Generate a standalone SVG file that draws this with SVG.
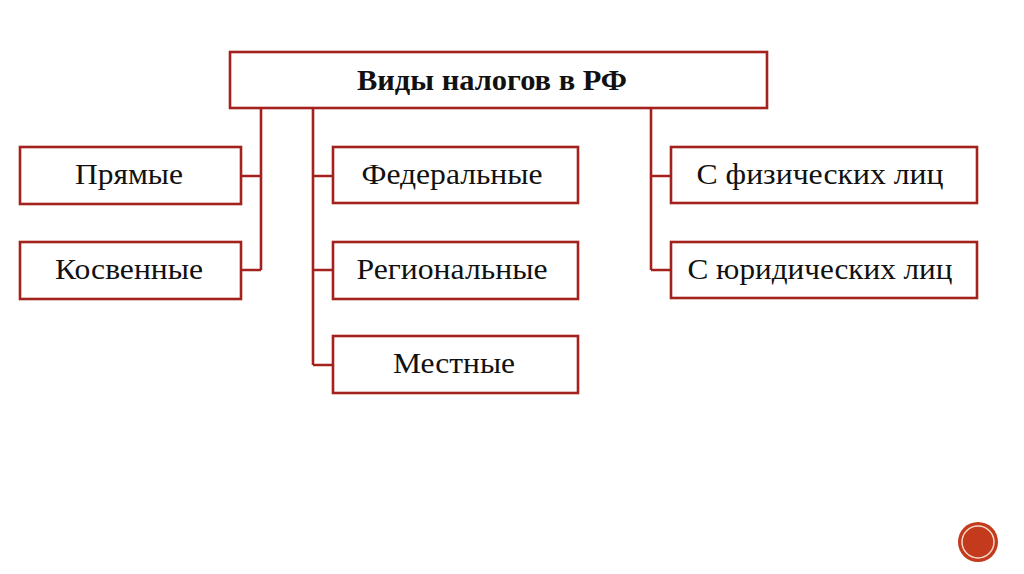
<svg xmlns="http://www.w3.org/2000/svg" width="1024" height="574" viewBox="0 0 1024 574">
<style>
.box{fill:#fff;stroke:#a3221d;stroke-width:2.6}
.ln{fill:none;stroke:#a3221d;stroke-width:2.6}
.t{font-family:"Liberation Serif","Times New Roman",serif;font-size:30px;fill:#111;text-anchor:middle}
.title{font-weight:bold;font-size:30px}
</style>
<rect width="1024" height="574" fill="#fff"/>
<g id="connectors">
<path class="ln" d="M261,108 V270 M241,176 H261 M241,270 H261"/>
<path class="ln" d="M313,108 V365 M313,176 H333 M313,270 H333 M313,365 H333"/>
<path class="ln" d="M651,108 V270 M651,176 H671 M651,270 H671"/>
</g>
<g id="root"><rect class="box" x="230" y="52" width="537" height="56"/><text class="t title" x="492" y="90" textLength="270" lengthAdjust="spacingAndGlyphs">Виды налогов в РФ</text></g>
<g id="pryamye"><rect class="box" x="20" y="147" width="221" height="57"/><text class="t" x="129" y="184" textLength="108" lengthAdjust="spacingAndGlyphs">Прямые</text></g>
<g id="kosvennye"><rect class="box" x="20" y="242" width="221" height="57"/><text class="t" x="129" y="279" textLength="148" lengthAdjust="spacingAndGlyphs">Косвенные</text></g>
<g id="federal"><rect class="box" x="333" y="147" width="245" height="56"/><text class="t" x="452" y="184" textLength="181" lengthAdjust="spacingAndGlyphs">Федеральные</text></g>
<g id="regional"><rect class="box" x="333" y="242" width="245" height="57"/><text class="t" x="452" y="279" textLength="191" lengthAdjust="spacingAndGlyphs">Региональные</text></g>
<g id="mestnye"><rect class="box" x="333" y="336" width="245" height="57"/><text class="t" x="454" y="373" textLength="122" lengthAdjust="spacingAndGlyphs">Местные</text></g>
<g id="fiz"><rect class="box" x="671" y="147" width="306" height="56"/><text class="t" x="820" y="184" textLength="247" lengthAdjust="spacingAndGlyphs">С физических лиц</text></g>
<g id="yur"><rect class="box" x="671" y="242" width="306" height="56"/><text class="t" x="820" y="279" textLength="265" lengthAdjust="spacingAndGlyphs">С юридических лиц</text></g>
<g id="badge"><circle cx="978" cy="542" r="20" fill="#c33a1c"/><circle cx="978" cy="542" r="16" fill="none" stroke="#f3d9c8" stroke-width="1.5"/></g>
</svg>
